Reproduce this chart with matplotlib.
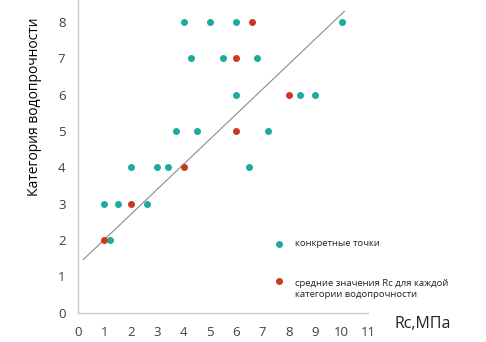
import matplotlib
matplotlib.use("Agg")
import matplotlib.pyplot as plt
import numpy as np

# concrete points (Rc, category)
pts_x = [4, 5, 6, 10,
         4.3, 5.5, 6.8,
         6, 8.4, 9,
         3.7, 4.5, 7.2,
         2, 3, 3.4, 6.5,
         1, 1.5, 2.6,
         1.2]
pts_y = [8, 8, 8, 8,
         7, 7, 7,
         6, 6, 6,
         5, 5, 5,
         4, 4, 4, 4,
         3, 3, 3,
         2]
# mean Rc per category
mean_x = [1, 2, 4, 6, 8, 6, 6.6]
mean_y = [2, 3, 4, 5, 6, 7, 8]
# trend line parameters
trend_slope = 0.69
trend_intercept = 1.32
trend_range = [0.2, 10.1]

x_ticks = list(range(0, 12))
y_ticks = list(range(0, 9))

fam = ['Open Sans', 'DejaVu Sans']
plt.rcParams['font.family'] = fam

fig = plt.figure(figsize=(4.86, 3.42), dpi=100)
ax = fig.add_axes([0.1605, 0.086, 0.597, 0.914])

cyan = '#1cab9e'
red = '#cc3a1e'
ms = 4

tx = np.array(trend_range)
ax.plot(tx, trend_slope * tx + trend_intercept, color='#8c8c8c', lw=0.8, zorder=1)

ax.plot(pts_x, pts_y, 'o', color=cyan, ms=ms, mec=cyan, zorder=2)
ax.plot(mean_x, mean_y, 'o', color=red, ms=ms, mec=red, zorder=3)

ax.set_xlim(0, 11)
ax.set_ylim(0, 8.6)
ax.set_xticks(x_ticks)
ax.set_yticks(y_ticks)
ax.tick_params(length=0, labelsize=9.5, colors='#404040')
ax.tick_params(axis='x', pad=10)
ax.tick_params(axis='y', pad=9)
for s in ['top', 'right']:
    ax.spines[s].set_visible(False)
for s in ['left', 'bottom']:
    ax.spines[s].set_color('#c8c8c8')
    ax.spines[s].set_linewidth(1.0)

fig.text(0.072, 0.687, 'Категория водопрочности', rotation=90, ha='center', va='center',
         fontsize=10, color='#000000')
fig.text(0.87, 0.052, 'Rc,МПа', ha='center', va='center', fontsize=11.5, color='#222222')

# legend
fig.lines.append(plt.Line2D([279 / 486], [1 - 244 / 342], marker='o', color=cyan, ms=ms,
                            transform=fig.transFigure, figure=fig))
fig.lines.append(plt.Line2D([279 / 486], [1 - 281 / 342], marker='o', color=red, ms=ms,
                            transform=fig.transFigure, figure=fig))
fig.text(295 / 486, 1 - 244 / 342, 'конкретные точки', ha='left', va='center', fontsize=6.8,
         color='#222222')
fig.text(295 / 486, 1 - 289 / 342, 'средние значения Rc для каждой\nкатегории водопрочности',
         ha='left', va='center', fontsize=6.8, color='#222222', linespacing=1.3)

fig.savefig('out.png', dpi=100)
